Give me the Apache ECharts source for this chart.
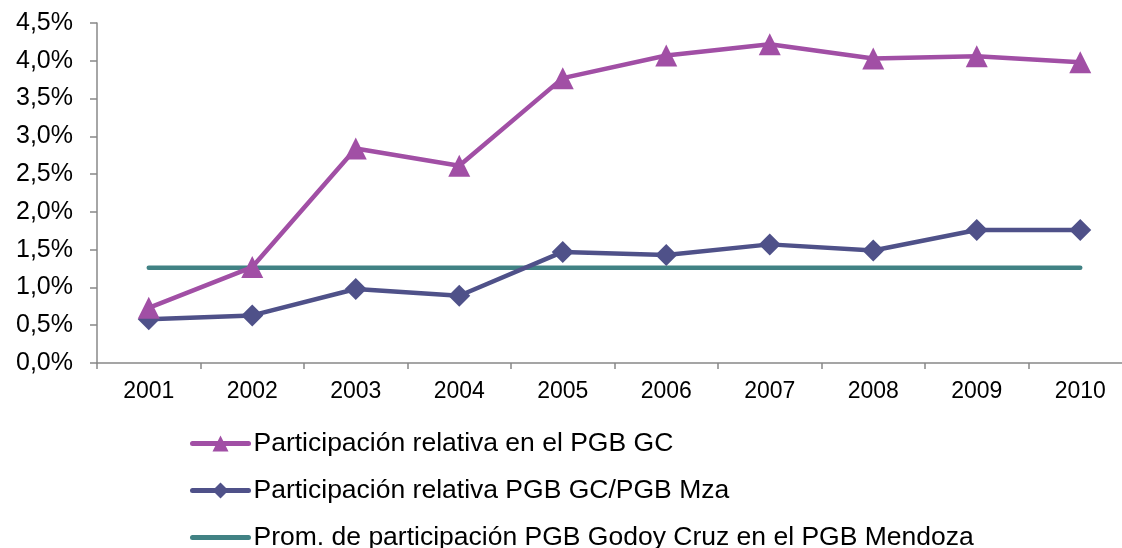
<!DOCTYPE html>
<html>
<head>
<meta charset="utf-8">
<script src="https://cdn.jsdelivr.net/npm/echarts@6/dist/echarts.min.js"></script>
<style>
  html, body { margin: 0; padding: 0; background: #fff; }
  #main { width: 1122px; height: 548px; }
</style>
</head>
<body>
<div id="main"></div>
<script>
// datos (en %)
const years = ["2001", "2002", "2003", "2004", "2005", "2006", "2007", "2008", "2009", "2010"];
const partGC = [0.73, 1.27, 2.84, 2.61, 3.77, 4.07, 4.22, 4.03, 4.06, 3.98];
const partGCMza = [0.58, 0.63, 0.98, 0.89, 1.47, 1.43, 1.57, 1.49, 1.76, 1.76];
const promedio = [1.26, 1.26, 1.26, 1.26, 1.26, 1.26, 1.26, 1.26, 1.26, 1.26];
const names = [
  "Participación relativa en el PGB GC",
  "Participación relativa PGB GC/PGB Mza",
  "Prom. de participación PGB Godoy Cruz en el PGB Mendoza"
];

let chart = echarts.init(document.getElementById("main"));
let option = {
  animation: false,
  textStyle: { fontFamily: "Liberation Sans, Arial, sans-serif" },
  grid: { left: 97, top: 23, width: 1035, height: 340, outerBoundsMode: "none", containLabel: false },
  legend: {
    orient: "vertical",
    left: 185,
    top: 425,
    height: 130,
    itemWidth: 56,
    itemHeight: 20,
    itemGap: 20,
    lineStyle: { width: 5, cap: "round" },
    textStyle: { fontSize: 26.5, color: "#000", lineHeight: 26 },
    data: [
      { name: names[0] },
      { name: names[1] },
      { name: names[2], itemStyle: { opacity: 0 } }
    ]
  },
  xAxis: {
    type: "category",
    data: years,
    boundaryGap: true,
    axisLine: { lineStyle: { color: "#888", width: 1.5 } },
    axisTick: { show: true, length: 6, lineStyle: { color: "#888", width: 1.5 } },
    axisLabel: { color: "#000", fontSize: 23, margin: 17 }
  },
  yAxis: {
    type: "value",
    min: 0,
    max: 4.5,
    interval: 0.5,
    splitLine: { show: false },
    axisLine: { show: true, lineStyle: { color: "#888", width: 1.5 } },
    axisTick: { show: true, length: 7, lineStyle: { color: "#888", width: 1.5 } },
    axisLabel: {
      color: "#000",
      fontSize: 25,
      margin: 24,
      formatter: function (v) { return v.toFixed(1).replace(".", ",") + "%"; }
    }
  },
  series: [
    {
      name: names[2],
      type: "line",
      data: promedio,
      symbol: "none",
      lineStyle: { color: "#418284", width: 4.5, cap: "round" },
      itemStyle: { color: "#418284" },
      z: 1
    },
    {
      name: names[1],
      type: "line",
      data: partGCMza,
      symbol: "diamond",
      symbolSize: 22,
      lineStyle: { color: "#4F5189", width: 4.5 },
      itemStyle: { color: "#4F5189" },
      z: 2
    },
    {
      name: names[0],
      type: "line",
      data: partGC,
      symbol: "triangle",
      symbolSize: 22,
      lineStyle: { color: "#A14FA5", width: 4.5 },
      itemStyle: { color: "#A14FA5" },
      z: 3
    }
  ]
};
chart.setOption(option);
</script>
</body>
</html>
